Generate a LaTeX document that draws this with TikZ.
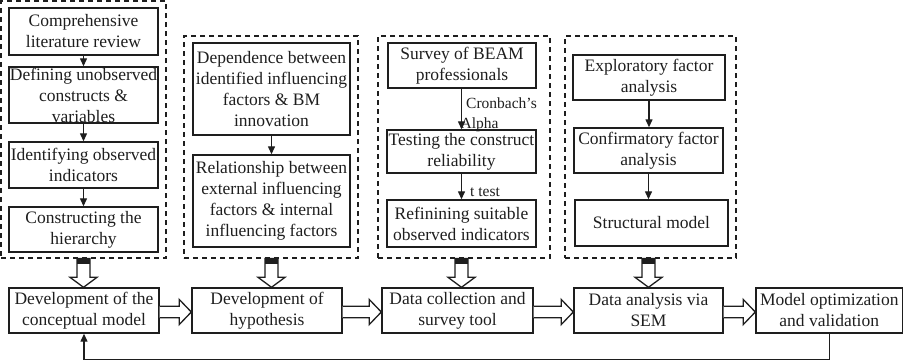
\documentclass[tikz,border=0pt]{standalone}
\usepackage{fontspec}
\setmainfont{Liberation Serif}
\usetikzlibrary{arrows.meta,calc}
\definecolor{ink}{HTML}{1E1E1E}
\tikzset{
  box/.style={draw=ink, line width=1.4pt, align=center, inner sep=0pt, text=ink,
              font=\fontsize{17.5}{21}\selectfont},
  grp/.style={draw=ink, line width=1.2pt, dash pattern=on 5pt off 4pt, inner sep=0pt},
  arr/.style={draw=ink, line width=1.3pt, -{Triangle[length=8pt,width=7pt]}},
  blk/.style={draw=ink, line width=1.3pt, fill=white, line join=miter},
  lbl/.style={inner sep=0pt, text=ink, font=\fontsize{15.5}{19}\selectfont},
}
% box given by its edges: name, left, top, right, bottom, text
\newcommand\boxat[6]{\node[box, minimum width={#4-#2}, minimum height={#5-#3}] (#1) at ({(#2+#4)/2},{(#3+#5)/2}) {#6};}
% dashed group frame given by its edges
\newcommand\grpat[5]{\node[grp, minimum width={#4-#2}, minimum height={#5-#3}] (#1) at ({(#2+#4)/2},{(#3+#5)/2}) {};}
% hollow block arrow pointing down, from a point on a frame to a point on a box
\newcommand\downblock[2]{%
  \draw[blk] let \p1=(#1), \p2=(#2) in
    (\x1-6.5pt,\y1) -- (\x1+6.5pt,\y1) -- (\x1+6.5pt,\y2+10pt) -- (\x1+13.5pt,\y2+10pt)
    -- (\x1,\y2) -- (\x1-13.5pt,\y2+10pt) -- (\x1-6.5pt,\y2+10pt) -- cycle;
  \fill[ink] let \p1=(#1) in (\x1-6.5pt,\y1) rectangle (\x1+6.5pt,\y1-5pt);}
% hollow block arrow pointing right, between two boxes
\newcommand\rightblock[2]{%
  \draw[blk] let \p1=(#1), \p2=(#2), \n1={\y1-1.5pt} in
    (\x1,\n1+5.8pt) -- (\x2-12pt,\n1+5.8pt) -- (\x2-12pt,\n1+12.5pt) -- (\x2,\n1)
    -- (\x2-12pt,\n1-12.5pt) -- (\x2-12pt,\n1-5.8pt) -- (\x1,\n1-5.8pt);}

\begin{document}
\begin{tikzpicture}[x=1pt,y=-1pt]
\useasboundingbox (0,0) rectangle (904,362);

% ---- group 1: conceptual model
\grpat{g1}{1}{1}{166}{258}
\boxat{c1}{9}{8}{158}{55}{Comprehensive\\literature review}
\boxat{c2}{9}{67}{158}{123}{Defining unobserved\\constructs \&\\variables}
\boxat{c3}{9}{142}{158}{188}{Identifying observed\\indicators}
\boxat{c4}{9}{207}{158}{252}{Constructing the\\hierarchy}
\draw[arr] (c1.south) -- (c2.north);
\draw[arr] (c2.south) -- (c3.north);
\draw[arr] (c3.south) -- (c4.north);

% ---- group 2: hypotheses
\grpat{g2}{184}{36}{358}{258}
\boxat{d1}{193}{43}{350}{135}{Dependence between\\identified influencing\\factors \& BM\\innovation}
\boxat{d2}{193}{155}{350}{247}{Relationship between\\external influencing\\factors \& internal\\influencing factors}
\draw[arr] (d1.south) -- (d2.north);

% ---- group 3: data collection
\grpat{g3}{378}{36}{550}{258}
\boxat{s1}{388}{43}{536}{88}{Survey of BEAM\\professionals}
\boxat{s2}{387}{130}{536}{173}{Testing the construct\\reliability}
\boxat{s3}{387}{200}{536}{247}{Refinining suitable\\observed indicators}
\draw[arr] (s1.south -| s2.north) -- (s2.north);
\draw[arr] (s2.south) -- (s3.north);
\node[lbl, anchor=base west] (la) at (466,108) {Cronbach’s};
\node[lbl, anchor=base west] (lb) at (460.5,128) {Alpha};
\node[lbl, anchor=base west] (lc) at (470,196) {t test};

% ---- group 4: analysis
\grpat{g4}{565}{36}{736}{258}
\boxat{e1}{573}{55}{725}{100}{Exploratory factor\\analysis}
\boxat{e2}{574}{128}{723}{173}{Confirmatory factor\\analysis}
\boxat{e3}{575}{200}{728}{246}{Structural model}
\draw[arr] (e1.south) -- (e1.south |- e2.north);
\draw[arr] (e2.south) -- (e2.south |- e3.north);

% ---- main process row
\boxat{b1}{9}{288}{159}{333}{Development of the\\conceptual model}
\boxat{b2}{192}{288}{342}{333}{Development of\\hypothesis}
\boxat{b3}{382}{288}{533}{333}{Data collection and\\survey tool}
\boxat{b4}{574}{288}{723}{333}{Data analysis via\\SEM}
\boxat{b5}{756}{288}{902.5}{333}{Model optimization\\and validation}

\downblock{c4.south |- g1.south}{c4.south |- b1.north}
\downblock{d2.south |- g2.south}{d2.south |- b2.north}
\downblock{s3.south |- g3.south}{s3.south |- b3.north}
\downblock{e2.south |- g4.south}{e2.south |- b4.north}

\rightblock{b1.east}{b2.west}
\rightblock{b2.east}{b3.west}
\rightblock{b3.east}{b4.west}
\rightblock{b4.east}{b5.west}

% feedback loop
\coordinate (fb) at (0,359.5);
\draw[arr] (b5.south) -- (b5.south |- fb) -| (b1.south);
\end{tikzpicture}
\end{document}
